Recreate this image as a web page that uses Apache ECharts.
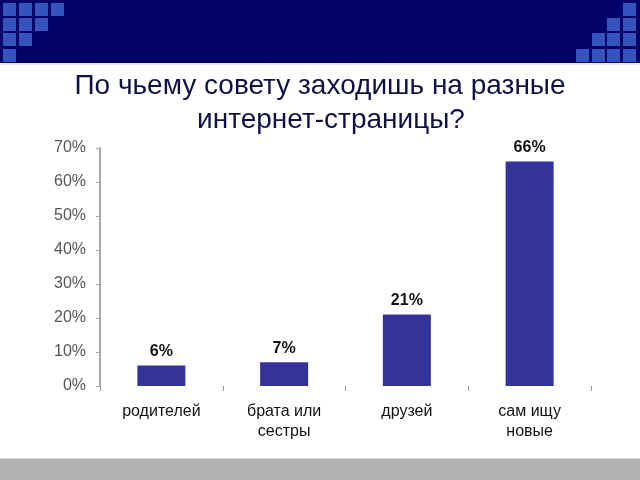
<!DOCTYPE html>
<html><head><meta charset="utf-8">
<script src="https://cdn.jsdelivr.net/npm/echarts@6/dist/echarts.min.js"></script>
<style>html,body{margin:0;padding:0;background:#fff}#c{width:640px;height:480px}</style>
</head><body><div id="c"></div>
<script>
const categories = ['родителей', 'брата или\nсестры', 'друзей', 'сам ищу\nновые'];
const values = [6, 7, 21, 66];
const yTicks = [0, 10, 20, 30, 40, 50, 60, 70];
const titleLines = ['По чьему совету заходишь на разные', 'интернет-страницы?'];

const chart = echarts.init(document.getElementById('c'), null, {renderer: 'canvas'});

// decorative squares in header
const sq = [];
const colsL = [3, 19, 35, 51], rowsY = [3, 18, 33, 49];
const leftCounts = [4, 3, 2, 1];
rowsY.forEach((y, r) => { for (let c = 0; c < leftCounts[r]; c++) sq.push({x: colsL[c], y}); });
const colsR = [576, 592, 607, 623];
const rightStart = [3, 2, 1, 0];
rowsY.forEach((y, r) => { for (let c = rightStart[r]; c < 4; c++) sq.push({x: colsR[c], y}); });

const graphics = [
  {type: 'rect', shape: {x: 0, y: 0, width: 640, height: 63}, style: {fill: '#020268'}, z: 0},
  {type: 'rect', shape: {x: 0, y: 63, width: 640, height: 2}, style: {fill: '#e6e6e6'}, z: 0},
  {type: 'rect', shape: {x: 0, y: 459, width: 640, height: 21}, style: {fill: '#b2b2b2'}, z: 0},
  {type: 'rect', shape: {x: 0, y: 458, width: 640, height: 1}, style: {fill: '#d8d8d8'}, z: 0}
];
sq.forEach(s => graphics.push({type: 'rect', shape: {x: s.x, y: s.y, width: 13, height: 13}, style: {fill: '#3454bc'}, z: 1}));
graphics.push({type: 'text', x: 320, y: 86, style: {text: titleLines[0], fill: '#101048', font: '28px "Liberation Sans", Arial, sans-serif', align: 'center', verticalAlign: 'middle'}, z: 2});
graphics.push({type: 'text', x: 331, y: 120, style: {text: titleLines[1], fill: '#101048', font: '28px "Liberation Sans", Arial, sans-serif', align: 'center', verticalAlign: 'middle'}, z: 2});

chart.setOption({
  animation: false,
  backgroundColor: '#ffffff',
  graphic: graphics,
  grid: {left: 100, right: 49, top: 148, bottom: 94},
  xAxis: {
    type: 'category',
    data: categories,
    axisLine: {show: false},
    axisTick: {show: true, alignWithLabel: false, length: 5, lineStyle: {color: '#999'}},
    axisLabel: {color: '#111', fontSize: 16, fontFamily: 'Liberation Sans', lineHeight: 20, margin: 16}
  },
  yAxis: {
    type: 'value',
    min: 0, max: 70, interval: 10,
    splitLine: {show: false},
    axisLine: {show: true, lineStyle: {color: '#a8a8a8', width: 2}},
    axisTick: {show: true, length: 4, lineStyle: {color: '#a8a8a8'}},
    axisLabel: {color: '#555', fontSize: 16, fontFamily: 'Liberation Sans', margin: 14, formatter: v => v + '%'}
  },
  series: [{
    type: 'bar',
    data: values,
    barWidth: 48,
    itemStyle: {color: '#333399'},
    label: {show: true, position: 'top', distance: 6, formatter: p => p.value + '%', color: '#111', fontSize: 16, fontWeight: 'bold', fontFamily: 'Liberation Sans'}
  }]
});
</script></body></html>
